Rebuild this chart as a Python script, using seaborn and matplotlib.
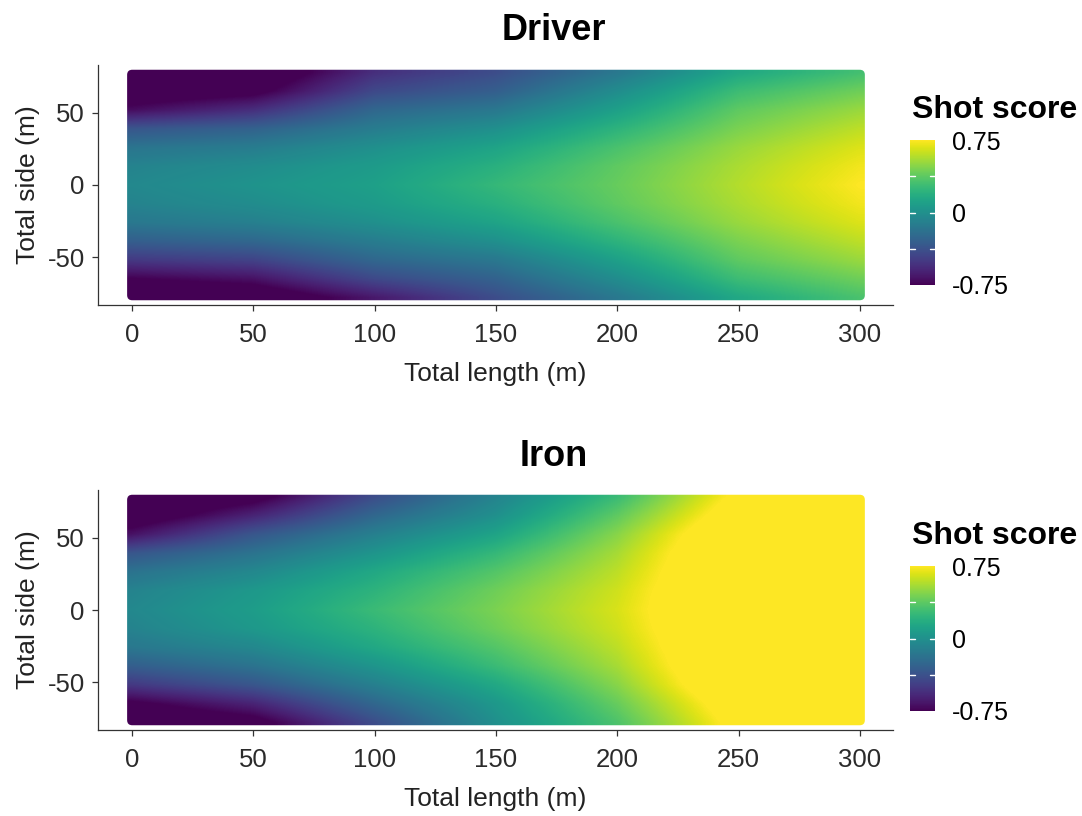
import numpy as np
import matplotlib
matplotlib.use("Agg")
import matplotlib.pyplot as plt
import seaborn as sns
from matplotlib.patches import FancyBboxPatch

# ---------------- data ----------------
total_length = [0, 50, 100, 150, 200, 250, 300]
total_side = [78, 65, 52, 39, 26, 13, 0, -13, -26, -39, -52, -65, -78]

# rows follow total_side (top -> bottom), columns follow total_length
driver_score = [
    [-0.95, -0.92, -0.55, -0.40, -0.15, 0.15, 0.30],
    [-0.88, -0.80, -0.42, -0.30, -0.02, 0.28, 0.42],
    [-0.70, -0.55, -0.25, -0.15, 0.10, 0.38, 0.52],
    [-0.35, -0.28, -0.12, 0.00, 0.22, 0.45, 0.60],
    [-0.17, -0.12, 0.00, 0.12, 0.32, 0.52, 0.67],
    [-0.08, -0.02, 0.07, 0.20, 0.38, 0.56, 0.72],
    [-0.05, 0.02, 0.10, 0.25, 0.40, 0.58, 0.75],
    [-0.08, -0.02, 0.07, 0.20, 0.38, 0.56, 0.72],
    [-0.15, -0.10, 0.00, 0.12, 0.32, 0.52, 0.67],
    [-0.30, -0.25, -0.12, 0.00, 0.22, 0.45, 0.60],
    [-0.50, -0.45, -0.25, -0.15, 0.10, 0.38, 0.52],
    [-0.75, -0.68, -0.42, -0.28, -0.02, 0.28, 0.42],
    [-0.95, -0.90, -0.65, -0.40, -0.15, 0.15, 0.32],
]

iron_score = [
    [-0.95, -0.82, -0.40, -0.08, 0.27, 0.80, 1.00],
    [-0.88, -0.60, -0.25, 0.00, 0.38, 0.88, 1.00],
    [-0.68, -0.35, -0.10, 0.12, 0.48, 0.97, 1.00],
    [-0.35, -0.18, 0.03, 0.25, 0.55, 1.00, 1.00],
    [-0.18, -0.05, 0.15, 0.35, 0.60, 1.00, 1.00],
    [-0.08, 0.05, 0.22, 0.42, 0.64, 1.00, 1.00],
    [-0.05, 0.08, 0.27, 0.45, 0.66, 1.00, 1.00],
    [-0.08, 0.05, 0.22, 0.42, 0.64, 1.00, 1.00],
    [-0.15, -0.05, 0.15, 0.35, 0.60, 1.00, 1.00],
    [-0.30, -0.18, 0.03, 0.27, 0.55, 1.00, 1.00],
    [-0.50, -0.35, -0.10, 0.15, 0.48, 0.97, 1.00],
    [-0.78, -0.60, -0.25, 0.05, 0.40, 0.88, 1.00],
    [-0.95, -0.82, -0.40, 0.00, 0.33, 0.82, 1.00],
]

panel_titles = ["Driver", "Iron"]
x_ticks = [0, 50, 100, 150, 200, 250, 300]
y_ticks = [-50, 0, 50]
cbar_ticks = [-0.75, 0, 0.75]
cbar_ticklabels = ["-0.75", "0", "0.75"]
cbar_marks = [-0.375, 0, 0.375]

# ---------------- style ----------------
sns.set_theme(style="ticks")
plt.rcParams['font.family'] = ['Liberation Sans', 'DejaVu Sans']
plt.rcParams['axes.unicode_minus'] = False
cmap = sns.color_palette("viridis", as_cmap=True)

fig = plt.figure(figsize=(10.82, 8.16), dpi=100)

W, H = 1082.0, 816.0
panels = [
    dict(data=driver_score, title=panel_titles[0],
         ax_top=65, ax_bot=305, title_y=30, leg_title_y=110, cbar_top=140, cbar_bot=285),
    dict(data=iron_score, title=panel_titles[1],
         ax_top=490, ax_bot=730, title_y=456, leg_title_y=536, cbar_top=566, cbar_bot=711),
]

x_step = total_length[1] - total_length[0]
y_step = total_side[0] - total_side[1]
extent = [total_length[0] - x_step / 2, total_length[-1] + x_step / 2,
          total_side[-1] - y_step / 2, total_side[0] + y_step / 2]

dark = '#2b2b2b'
for p in panels:
    ax = fig.add_axes([98 / W, 1 - p['ax_bot'] / H, 795 / W, (p['ax_bot'] - p['ax_top']) / H])
    z = np.array(p['data'], dtype=float)
    im = ax.imshow(z, cmap=cmap, vmin=-0.75, vmax=0.75, extent=extent, origin='upper',
                   interpolation='bilinear', interpolation_stage='data', aspect='auto')
    ax.set_xlim(-14, 313.6)
    ax.set_ylim(-83.3, 83.3)
    clip = FancyBboxPatch((-2, -80), 304, 160,
                          boxstyle="round,pad=0,rounding_size=2.1",
                          mutation_aspect=1.685, transform=ax.transData,
                          facecolor='none', edgecolor='none')
    im.set_clip_path(clip)

    sns.despine(ax=ax)
    for s in ['left', 'bottom']:
        ax.spines[s].set_color('#333333')
        ax.spines[s].set_linewidth(0.9)
    ax.set_xticks(x_ticks)
    ax.set_yticks(y_ticks)
    ax.tick_params(axis='both', length=4.5, width=0.9, color='#333333',
                   labelsize=18.5, labelcolor=dark)
    ax.tick_params(axis='x', pad=8.5)
    ax.tick_params(axis='y', pad=5)
    ax.set_xlabel("Total length (m)", fontsize=19, color='#222222', labelpad=11)
    ax.set_ylabel("Total side (m)", fontsize=19, color='#222222', labelpad=5.5)
    ax.grid(False)

    fig.text(554 / W, 1 - p['title_y'] / H, p['title'], ha='center', va='center',
             fontsize=26, fontweight='bold', color='black')
    fig.text(912 / W, 1 - p['leg_title_y'] / H, "Shot score", ha='left', va='center',
             fontsize=23, fontweight='bold', color='black')

    cax = fig.add_axes([910 / W, 1 - p['cbar_bot'] / H, 25 / W,
                        (p['cbar_bot'] - p['cbar_top']) / H])
    cb = fig.colorbar(im, cax=cax, ticks=cbar_ticks)
    cb.ax.set_yticklabels(cbar_ticklabels)
    cb.outline.set_visible(False)
    cax.tick_params(axis='y', length=0, labelsize=18, pad=12, labelcolor='black')
    for v in cbar_marks:
        cax.plot([0, 0.2], [v, v], color='white', lw=1.0,
                 transform=cax.get_yaxis_transform())
        cax.plot([0.8, 1.0], [v, v], color='white', lw=1.0,
                 transform=cax.get_yaxis_transform())

fig.savefig("out.png", dpi=100)
